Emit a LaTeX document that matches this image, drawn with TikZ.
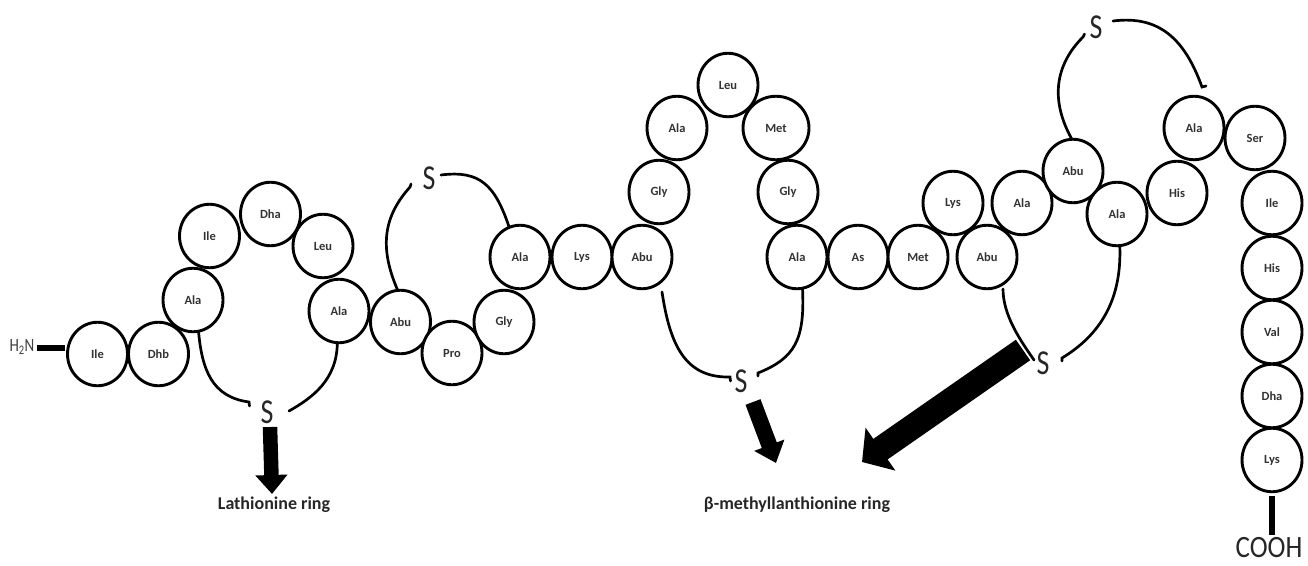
\documentclass[tikz,border=0pt]{standalone}
\usepackage{fontspec}
\setmainfont{Carlito}
\usetikzlibrary{shapes.geometric,arrows.meta,calc}
\tikzset{
  res/.style={ellipse,draw=black,fill=white,line width=2.9pt,inner sep=0pt,outer sep=0pt,
    minimum width=60pt,minimum height=63.5pt,text=black!80,
    font=\fontsize{12.5}{13}\bfseries\selectfont},
  sulfur/.style={inner sep=0pt,font=\fontsize{28}{28}\selectfont,text=black!85},
  bond/.style={line width=2.7pt,draw=black,line cap=round},
  ringname/.style={inner sep=0pt,font=\fontsize{18}{19}\bfseries\selectfont,text=black!85},
  endbar/.style={line width=5.5pt,draw=black},
  blockone/.style={line width=14.5pt,draw=black,-{Triangle[length=19pt,width=31pt]}},
  blocktwo/.style={line width=16pt,draw=black,-{Triangle[length=19pt,width=31pt]}},
  blockthree/.style={line width=25pt,draw=black,-{Triangle[length=22.5pt,width=51pt]}}
}
\newcommand{\tallS}{\scalebox{1}[1.25]{S}}
\begin{document}
\begin{tikzpicture}[x=1pt,y=-1pt]
\useasboundingbox (0,0) rectangle (1308,565);
% residues
\node[res] (r1) at (97.5,354) {Ile};
\node[res] (r2) at (158.5,354) {Dhb};
\node[res] (r3) at (193,300) {Ala};
\node[res] (r4) at (209.5,236) {Ile};
\node[res] (r5) at (270.5,214) {Dha};
\node[res] (r6) at (323,246) {Leu};
\node[res] (r7) at (339,311) {Ala};
\node[res] (r8) at (400.5,322) {Abu};
\node[res] (r9) at (452,353) {Pro};
\node[res] (r10) at (504,322) {Gly};
\node[res] (r11) at (520,257) {Ala};
\node[res] (r12) at (582,257) {Lys};
\node[res] (r13) at (642,257) {Abu};
\node[res] (r14) at (659,192) {Gly};
\node[res] (r15) at (677,128) {Ala};
\node[res] (r16) at (728,85) {Leu};
\node[res,minimum width=66pt] (r17) at (776,128) {Met};
\node[res] (r18) at (788,192) {Gly};
\node[res] (r19) at (797,257) {Ala};
\node[res] (r20) at (858,257) {As};
\node[res] (r21) at (918,257) {Met};
\node[res] (r22) at (953,203) {Lys};
\node[res] (r23) at (987,257) {Abu};
\node[res] (r24) at (1022,203) {Ala};
\node[res] (r25) at (1073,171) {Abu};
\node[res] (r26) at (1117,214) {Ala};
\node[res] (r27) at (1177,193) {His};
\node[res] (r28) at (1194,128) {Ala};
\node[res] (r29) at (1255,138) {Ser};
\node[res] (r30) at (1272,203) {Ile};
\node[res] (r31) at (1272,268) {His};
\node[res] (r32) at (1272,332) {Val};
\node[res] (r33) at (1272,396) {Dha};
\node[res] (r34) at (1272,460) {Lys};
% termini
\node[inner sep=0pt,text=black!75,font=\fontsize{15}{15}\selectfont] (nterm) at (22,347) {\scalebox{1}[1.25]{H\textsubscript{2}N}};
\node[inner sep=0pt,text=black!85,font=\fontsize{27}{27}\selectfont] (cterm) at (1269,548) {\scalebox{1}[1.15]{COOH}};
\draw[endbar] (nterm.east)++(2,1) -- ($(r1.west)+(-3,-6)$);
\draw[endbar] ($(r34.south)+(0,4)$) -- ($(cterm.north)+(3,-3)$);
% sulfur atoms
\node[sulfur] (s1) at (267,412) {\tallS};
\node[sulfur] (s2) at (429,178) {\tallS};
\node[sulfur] (s3) at (741,381) {\tallS};
\node[sulfur] (s4) at (1043,363) {\tallS};
\node[sulfur] (s5) at (1096,27) {\tallS};
% thioether bridges
\draw[bond] (r3.-80) .. controls (202,370) and (212,397) .. ($(s1)+(-18,-10)$) -- ++(0.5,4);
\draw[bond] (r7.-93) .. controls (337,380) and (312,398) .. ($(s1)+(22,-1)$);
\draw[bond] (r8.95) .. controls (378,245) and (385,215) .. ($(s2)+(-19,9)$) -- ++(1,-3);
\draw[bond] ($(s2)+(12,-3)$) .. controls (480,170) and (495,185) .. (r11.110);
\draw[bond] ($(r13)+(20,35)$) .. controls (670,345) and (685,378) .. ($(s3)+(-11,-4)$) -- ++(0.5,4);
\draw[bond] (r19.-80) .. controls (805,340) and (795,358) .. ($(s3)+(17,-8)$) -- ++(0,3);
\draw[bond] ($(r23)+(16,32)$) .. controls (1003,315) and (1020,340) .. ($(s4)+(-9,-3)$);
\draw[bond] (r26.-85) .. controls (1122,300) and (1100,335) .. ($(s4)+(19,-5)$) -- ++(0,3);
\draw[bond] (r25.92) .. controls (1050,100) and (1055,65) .. ($(s5)+(-13,10)$) -- ++(1.5,-3);
\draw[bond] ($(s5)+(17,-6)$) .. controls (1160,15) and (1185,40) .. ($(r28)+(8,-41)$) -- ++(4,-1);
% labels
\node[ringname] (lan) at (274,505) {Lathionine ring};
\node[ringname] (mel) at (797,505) {β-methyllanthionine ring};
% block arrows
\coordinate (a1s) at ($(s1)+(3,15)$);
\coordinate (a1e) at ($(lan)+(-2,-11)$);
\coordinate (a2s) at ($(s3)+(12,21)$);
\coordinate (a2e) at ($(mel)+(-21,-42)$);
\coordinate (a3s) at ($(s4)+(-20,-13)$);
\coordinate (a3e) at ($(mel)+(65,-43)$);
\draw[blockone] (a1s) -- (a1e);
\draw[blocktwo] (a2s) -- (a2e);
\draw[blockthree] (a3s) -- (a3e);
\end{tikzpicture}
\end{document}
